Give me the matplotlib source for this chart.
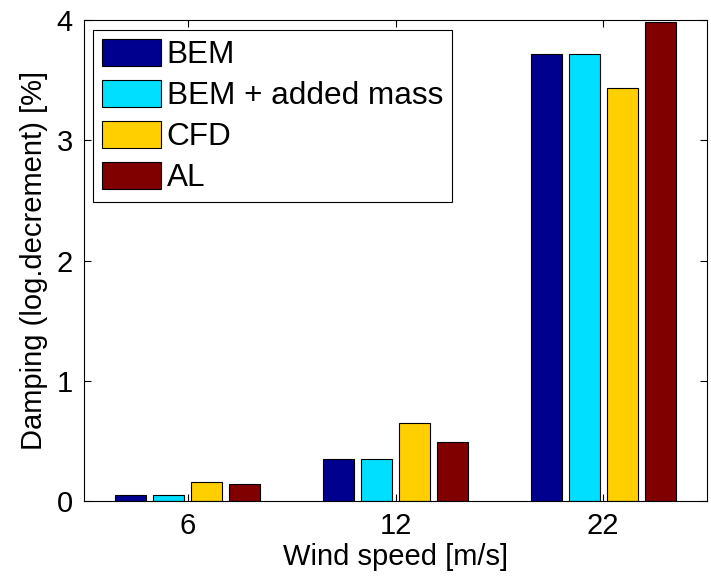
import matplotlib
matplotlib.use('Agg')
import matplotlib.pyplot as plt
import numpy as np

plt.rcParams['font.family'] = ['Liberation Sans', 'DejaVu Sans']
plt.rcParams['font.size'] = 21

wind = ['6', '12', '22']
series = ['BEM', 'BEM + added mass', 'CFD', 'AL']
bem = [0.05, 0.347, 3.715]
bem_am = [0.05, 0.347, 3.715]
cfd = [0.155, 0.646, 3.437]
al = [0.145, 0.49, 3.986]
colors = ['#00008F', '#00DFFF', '#FFCF00', '#800000']

values = [bem, bem_am, cfd, al]
x = np.arange(1, len(wind) + 1)
step = 0.183
width = 0.149

fig = plt.figure(figsize=(7.11, 5.76), dpi=100)
ax = fig.add_axes([84/711, 1 - 501/576, (707 - 84)/711, (501 - 20)/576])

for i in range(len(series)):
    ax.bar(x + (i - 1.5)*step, values[i], width, color=colors[i],
           edgecolor='black', linewidth=0.8, label=series[i], zorder=2)

ax.set_xlim(0.5, 3.5)
ax.set_ylim(0, 4)
ax.set_xticks(x)
ax.set_xticklabels(wind)
ax.set_yticks([0, 1, 2, 3, 4])
ax.tick_params(direction='in', length=5, width=0.8, top=True, right=True, pad=8)
for s in ax.spines.values():
    s.set_linewidth(0.8)

ax.set_xlabel('Wind speed [m/s]', labelpad=2)
ax.set_ylabel('Damping (log.decrement) [%]', labelpad=6)

leg = ax.legend(loc='upper left', bbox_to_anchor=((93 - 84)/623, (501 - 30)/481),
                borderaxespad=0, fontsize=22.7, fancybox=False, framealpha=1,
                edgecolor='black', handlelength=1.9, handleheight=0.97,
                handletextpad=0.17, labelspacing=0.3, borderpad=0.27)
leg.get_frame().set_linewidth(0.8)

fig.savefig('out.png', dpi=100)
